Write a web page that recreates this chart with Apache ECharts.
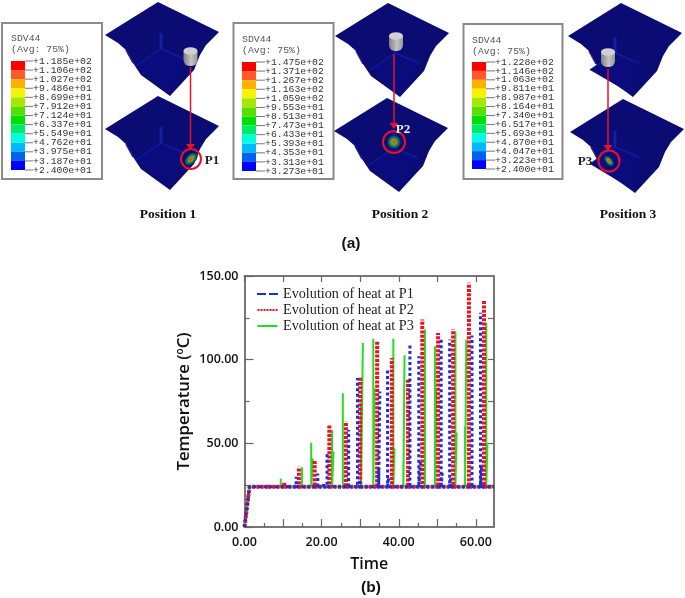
<!DOCTYPE html>
<html><head><meta charset="utf-8">
<style>html,body{margin:0;padding:0;background:#fff}#c{width:685px;height:598px}</style>
<script src="https://cdn.jsdelivr.net/npm/echarts@6/dist/echarts.min.js"></script>
</head><body><div id="c"></div>
<script>
const seriesNames = ['Evolution of heat at P1','Evolution of heat at P2','Evolution of heat at P3'];
const baseline = 24;
const p1Times = [11.2,13.4,19,20.5,21.4,27,29.3,29.9,34.8,35.1,37.1,37.4,42.9,45.2,45.6,51,51.3,53.2,53.5,59,61.2,61.5];
const p1Peaks = [26,30,32,27,44,58,89,28,34,81,95,30,110,102,39,112.5,33,112,30,114.5,128,37];
const p2Times = [6.1,10.3,14.1,18.2,22,26.3,30,34.4,38.2,42.4,46.1,50.2,54.1,58.2,62.1];
const p2Peaks = [25,27,36,40,61,63,90,111,101,88,124,116,118,146,135];
const p3Times = [9.4,14.9,17.3,17.7,22.7,23.1,25.5,30.2,30.7,33.4,33.7,38.6,38.9,41.2,41.5,46.8,49.4,49.7,54.7,55,57.2,57.5,62.7,63];
const p3Peaks = [29,35.7,50.4,41,58,45,80,74,110,112.5,83,112.5,47,39,102.6,118,108,82,117,56.5,60,112,122,50];
const xLabelTicks = [0,20,40,60];
const yLabelTicks = [0,50,100,150];
const legend1 = ['+1.185e+02','+1.106e+02','+1.027e+02','+9.486e+01','+8.699e+01','+7.912e+01','+7.124e+01','+6.337e+01','+5.549e+01','+4.762e+01','+3.975e+01','+3.187e+01','+2.400e+01'];
const legend2 = ['+1.475e+02','+1.371e+02','+1.267e+02','+1.163e+02','+1.059e+02','+9.553e+01','+8.513e+01','+7.473e+01','+6.433e+01','+5.393e+01','+4.353e+01','+3.313e+01','+3.273e+01'];
const legend3 = ['+1.228e+02','+1.146e+02','+1.063e+02','+9.811e+01','+8.987e+01','+8.164e+01','+7.340e+01','+6.517e+01','+5.693e+01','+4.870e+01','+4.047e+01','+3.223e+01','+2.400e+01'];
const bandColors = ['#ff0000','#ff5a28','#ffb000','#f4f400','#a6e800','#56e000','#00e000','#00ea6a','#00ffe0','#00b8ff','#0060f0','#0000ff'];

const X_MAX = 64.7;
function spikes(times, peaks){
  const d = [[0,0],[1.3,baseline]];
  times.forEach((t,i)=>{ d.push([t,baseline],[t,peaks[i]],[null,null],[t,baseline]); });
  d.push([X_MAX,baseline]);
  return d;
}

/* ---------- illustration ---------- */
const g = [];
const NAVY='#0a0c74', FLOOR='#0a0c7e', CREASE='#121a9c', RED='#e8102a';
function plate(ax, ay, crease){
  const P = pts => pts.map(p=>[ax+p[0], ay+p[1]]);
  g.push({type:'polygon',z:5,shape:{points:P([[0,0],[61,30],[48,43],[42,53],[36,68],[12,94],[-17,73],[-25,61],[-32,48],[-40,41],[-53,33]])},style:{fill:NAVY}});
  g.push({type:'polygon',z:6,shape:{points:P([[crease[0],crease[1]],[crease[0]+24,crease[1]+10],[12,92],[crease[0]-25,crease[1]+17]])},style:{fill:FLOOR}});
  const L = (a,b,w,c)=>g.push({type:'line',z:7,shape:{x1:ax+a[0],y1:ay+a[1],x2:ax+b[0],y2:ay+b[1]},style:{stroke:c||CREASE,lineWidth:w}});
  L([crease[0],crease[1]-16],crease,3,'#141ea8');
  L(crease,[crease[0]-25,crease[1]+17],1.5);
  L(crease,[crease[0]+24,crease[1]+10],1.5);
  L([-25,61],[-32,48],1.5,'#20228f');
}
function cylinder(cx, cy){
  g.push({type:'rect',z:8,shape:{x:cx-7,y:cy-7,width:14,height:15,r:[0,0,6,6]},
    style:{fill:new echarts.graphic.LinearGradient(0,0,1,0,[{offset:0,color:'#808080'},{offset:0.55,color:'#c4c4c4'},{offset:1,color:'#989898'}])}});
  g.push({type:'circle',z:9,shape:{cx:cx,cy:cy-7,r:7},originX:cx,originY:cy-7,scaleY:0.55,style:{fill:'#d0d0d0'}});
}
function arrow(x, y1, y2){
  g.push({type:'line',z:10,shape:{x1:x,y1:y1,x2:x,y2:y2-5},style:{stroke:RED,lineWidth:1.5}});
  g.push({type:'polygon',z:10,shape:{points:[[x-4.5,y2-6],[x+4.5,y2-6],[x,y2]]},style:{fill:RED}});
}
function hot(cx, cy, r, rot, sx){
  g.push({type:'circle',z:9,shape:{cx:cx,cy:cy,r:r},originX:cx,originY:cy,rotation:rot,scaleX:sx,
    style:{fill:new echarts.graphic.RadialGradient(0.5,0.5,0.5,[{offset:0,color:'#c8402a'},{offset:0.3,color:'#a09030'},{offset:0.6,color:'#188a48'},{offset:1,color:'#101a70'}])}});
}
function ring(cx, cy, r){
  g.push({type:'circle',z:11,shape:{cx:cx,cy:cy,r:r},style:{fill:null,stroke:RED,lineWidth:2}});
}
function txt(x, y, text, font, fill, align){
  g.push({type:'text',z:12,x:x,y:y,style:{text:text,font:font,fill:fill||'#111',textAlign:align||'center',textVerticalAlign:'middle'}});
}
function scaleBox(b, labels){
  g.push({type:'rect',z:4,shape:{x:b.x,y:b.y,width:b.w,height:b.h},style:{fill:'#fff',stroke:'#8a8a8a',lineWidth:2}});
  const mono='9.8px "Liberation Mono"';
  txt(b.bx,b.t1,'SDV44',mono,'#555','left');
  txt(b.bx,b.t1+11,'(Avg: 75%)',mono,'#555','left');
  const step=(b.by2-b.by1)/12;
  bandColors.forEach((c,i)=>g.push({type:'rect',z:5,shape:{x:b.bx,y:b.by1+i*step,width:14,height:step},style:{fill:c}}));
  labels.forEach((s,i)=>{
    const y=b.by1+i*step;
    g.push({type:'line',z:5,shape:{x1:b.bx+14,y1:y,x2:b.lx,y2:y},style:{stroke:'#777',lineWidth:1}});
    txt(b.lx,y,s,mono,'#333','left');
  });
}
scaleBox({x:2,y:23,w:100,h:156,bx:11,by1:61,by2:170,t1:38,lx:33},legend1);
scaleBox({x:233.5,y:23,w:100,h:156,bx:242,by1:62,by2:171,t1:39,lx:265},legend2);
scaleBox({x:463.5,y:24,w:99,h:155,bx:472,by1:62,by2:169,t1:40,lx:495},legend3);
plate(158,2,[3,47]); plate(158,96,[3,47]);
plate(388,3,[7,50]); plate(387,98,[7,50]);
plate(621,3,[-6,50]); plate(623,99,[-8,48]);
cylinder(190.5,58); cylinder(396,43); cylinder(608,59);
hot(191,159,8,-0.8,0.6); hot(394,142,7,0,1); hot(609,161,6.5,0.7,0.55);
arrow(190.5,67,150); arrow(394,54,129); arrow(608,69,151);
ring(191,159,10); ring(394,142,11); ring(609,161,10.5);
const serifB='bold 13px "Liberation Serif"';
txt(212,161,'P1',serifB,'#222'); txt(403,130,'P2',serifB,'#eee'); txt(585,162,'P3',serifB,'#222');
const posF='bold 13.5px "Liberation Serif"';
txt(168,215,'Position 1',posF); txt(400,215,'Position 2',posF); txt(628,215,'Position 3',posF);
txt(351,244,'(a)','bold 15.5px "Liberation Sans"'); txt(371,588,'(b)','bold 15.5px "Liberation Sans"');

/* ---------- axes ---------- */
const AX='#777';
const lineS={show:true,onZero:false,lineStyle:{color:AX,width:2}};
const xBase={type:'value',min:0,max:X_MAX,interval:10,splitLine:{show:false},axisLine:lineS,axisLabel:{show:false}};
const yBase={type:'value',min:0,max:150,interval:25,splitLine:{show:false},axisLine:lineS,axisLabel:{show:false}};
const tick=(vals,len)=>({show:true,inside:true,length:len,customValues:vals,lineStyle:{color:'#666',width:1.2}});
const font={fontFamily:'"Open Sans"',fontWeight:600,color:'#111'};
const xMajor=[0,10,20,30,40,50,60], xMinor=[5,15,25,35,45,55];
const yMajor=[0,50,100,150], yMinor=[25,75,125], yAll=[25,50,75,100,125];
const dots='M0,0H2V2H0Z M3,0H5V2H3Z M6,0H8V2H6Z M9,0H11V2H9Z M12,0H14V2H12Z M15,0H17V2H15Z M18,0H20V2H18Z';

const option={
  animation:false,backgroundColor:'#fff',
  grid:{left:244.5,top:276,width:249.5,height:251,show:false},
  legend:{orient:'vertical',left:257,top:287,itemWidth:21,itemHeight:2,itemGap:2,padding:0,
    textStyle:{fontFamily:'"Liberation Serif"',fontSize:14.2,color:'#222',padding:[0,0,0,0]},
    data:[{name:seriesNames[0],icon:'path://M0,0H9V2H0Z M12,0H21V2H12Z',itemStyle:{color:'#1a2fd8'}},
          {name:seriesNames[1],icon:'path://'+dots,itemStyle:{color:'#f01020'}},
          {name:seriesNames[2],icon:'path://M0,0H20V2H0Z',itemStyle:{color:'#20e020'}}]},
  xAxis:[
    Object.assign({},xBase,{position:'bottom',axisTick:tick(xMajor,8),
      axisLabel:Object.assign({show:true,customValues:xLabelTicks,fontSize:12.5,margin:9,formatter:v=>v.toFixed(2)},font),
      name:'Time',nameLocation:'middle',nameGap:29,nameTextStyle:Object.assign({},font,{fontSize:16})}),
    Object.assign({},xBase,{position:'bottom',axisTick:tick(xMinor,4)}),
    Object.assign({},xBase,{position:'top',axisTick:tick(xMajor,6)})
  ],
  yAxis:[
    Object.assign({},yBase,{position:'left',axisTick:tick(yMajor,9),
      axisLabel:Object.assign({show:true,customValues:yLabelTicks,fontSize:12.5,margin:6,formatter:v=>v.toFixed(2)},font),
      name:'{a|Temperature (}{s|o}{a|C)}',nameLocation:'middle',nameGap:52,
      nameTextStyle:{rich:{a:Object.assign({},font,{fontSize:16.8}),s:Object.assign({},font,{fontSize:10,verticalAlign:'top',padding:[0,0,6,0]})}}}),
    Object.assign({},yBase,{position:'left',axisTick:tick(yMinor,5)}),
    Object.assign({},yBase,{position:'right',axisTick:tick(yAll,6)})
  ],
  graphic:{elements:g},
  series:[
    {name:seriesNames[0],type:'line',z:5,showSymbol:false,symbol:'none',data:spikes(p1Times,p1Peaks),lineStyle:{color:'#1a2fd8',width:3,type:[3,2.5]},itemStyle:{color:'#1a2fd8'}},
    {name:seriesNames[1],type:'line',z:4,showSymbol:false,symbol:'none',data:spikes(p2Times,p2Peaks),lineStyle:{color:'#f01020',width:4,type:[3,1.3]},itemStyle:{color:'#f01020'}},
    {name:seriesNames[2],type:'line',z:3,showSymbol:false,symbol:'none',data:spikes(p3Times,p3Peaks),lineStyle:{color:'#20e020',width:2,type:'solid'},itemStyle:{color:'#20e020'}}
  ]
};
const chart=echarts.init(document.getElementById('c'),null,{renderer:'canvas'});
chart.setOption(option);
</script></body></html>
